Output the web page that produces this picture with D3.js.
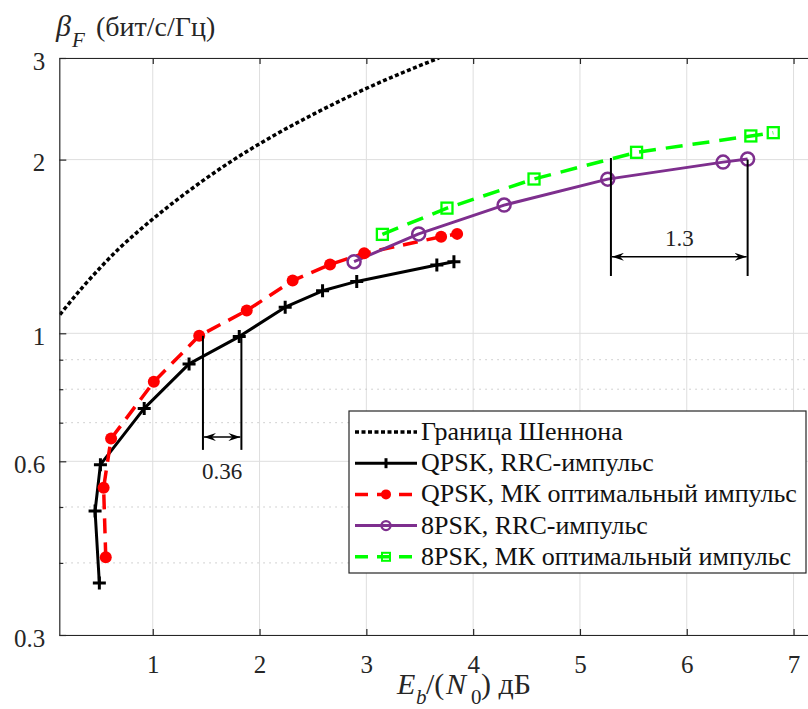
<!DOCTYPE html>
<html><head><meta charset="utf-8">
<script src="https://cdn.jsdelivr.net/npm/d3@7/dist/d3.min.js"></script>
<style>html,body{margin:0;padding:0;background:#fff;} svg text{font-family:"Liberation Serif","Times New Roman",serif;}</style>
</head><body>
<svg id="chart" width="808" height="709" font-family="Liberation Serif, Times New Roman, serif"></svg>
<script>
// ---- data ----
const xTicks = [1, 2, 3, 4, 5, 6, 7];
const yTicks = [0.3, 0.6, 1, 2, 3];
const yMinorTicks = [0.4, 0.5, 0.7, 0.8, 0.9];

const shannonX = [0.13, 0.17, 0.34, 0.51, 0.68, 0.86, 1.04, 1.40, 1.76, 2.13, 2.51, 2.89, 3.28, 3.68];
const shannonY = [1.077, 1.10, 1.20, 1.30, 1.40, 1.50, 1.60, 1.80, 2.00, 2.20, 2.40, 2.60, 2.80, 3.00];

const qpskRrcX = [0.50, 0.46, 0.51, 0.92, 1.34, 1.81, 2.24, 2.59, 2.91, 3.66, 3.82];
const qpskRrcY = [0.369, 0.492, 0.592, 0.741, 0.885, 0.987, 1.11, 1.185, 1.23, 1.313, 1.33];

const qpskMkX = [0.56, 0.54, 0.61, 1.01, 1.435, 1.88, 2.31, 2.66, 2.98, 3.70, 3.85];
const qpskMkY = [0.409, 0.54, 0.657, 0.824, 0.99, 1.095, 1.234, 1.316, 1.376, 1.47, 1.487];

const psk8RrcX = [2.885, 3.49, 4.29, 5.26, 6.34, 6.57];
const psk8RrcY = [1.331, 1.487, 1.668, 1.85, 1.98, 2.005];

const psk8MkX = [3.15, 3.755, 4.57, 5.53, 6.60, 6.81];
const psk8MkY = [1.484, 1.648, 1.851, 2.059, 2.198, 2.227];

const legendLabels = ["Граница Шеннона", "QPSK, RRC-импульс", "QPSK, МК оптимальный импульс", "8PSK, RRC-импульс", "8PSK, МК оптимальный импульс"];

// annotations (data units)
const annX1 = [1.47, 5.29];
const annX2 = [1.83, 6.57];
const annTop1 = [0.99, 2.013];
const annTop2 = [0.987, 2.0];
const annBottom = [0.628, 1.257];
const annArrowY = [0.661, 1.357];
const annLabels = ["0.36", "1.3"];
const annLabelY = [0.559, 1.417];

// ---- layout ----
const FONT = '"Liberation Serif","Times New Roman",serif';
const L = 59.3, T = 58, B = 635;
const pxPerUnit = 106.8;
const R = L + (7.2 - 0.125) * pxPerUnit;
const svg = d3.select("#chart");
svg.append("rect").attr("width", 808).attr("height", 709).attr("fill", "#fff");

const x = d3.scaleLinear().domain([0.125, 7.2]).range([L, R]);
const y = d3.scaleLog().domain([0.3, 3]).range([B, T]);

const defs = svg.append("defs");
defs.append("clipPath").attr("id", "plotclip").append("rect")
  .attr("x", L).attr("y", T).attr("width", R - L).attr("height", B - T);
defs.append("marker").attr("id", "arrow").attr("viewBox", "0 0 12 8")
  .attr("refX", 12).attr("refY", 4).attr("markerWidth", 12).attr("markerHeight", 8)
  .attr("markerUnits", "userSpaceOnUse").attr("orient", "auto-start-reverse")
  .append("path").attr("d", "M0,0 L12,4 L0,8 L4,4 Z").attr("fill", "#000");

// grid
const grid = svg.append("g");
grid.selectAll(".gx").data(xTicks).enter().append("line")
  .attr("x1", d => x(d)).attr("x2", d => x(d)).attr("y1", T).attr("y2", B)
  .attr("stroke", "#dedede").attr("stroke-width", 1);
grid.selectAll(".gy").data(yTicks).enter().append("line")
  .attr("x1", L).attr("x2", R).attr("y1", d => y(d)).attr("y2", d => y(d))
  .attr("stroke", "#dedede").attr("stroke-width", 1);
grid.selectAll(".gym").data(yMinorTicks).enter().append("line")
  .attr("x1", L).attr("x2", R).attr("y1", d => y(d)).attr("y2", d => y(d))
  .attr("stroke", "#c4c4c4").attr("stroke-width", 1).attr("stroke-dasharray", "1.5,4.5");

const plot = svg.append("g").attr("clip-path", "url(#plotclip)");
const zip = (xs, ys) => xs.map((v, i) => [v, ys[i]]);
const line = d3.line().x(d => x(d[0])).y(d => y(d[1]));
const smooth = d3.line().x(d => x(d[0])).y(d => y(d[1])).curve(d3.curveMonotoneX);

const series = [
  {pts: zip(shannonX, shannonY), color: "#000", width: 3.5, dash: "4,2.5", marker: null, gen: smooth},
  {pts: zip(qpskRrcX, qpskRrcY), color: "#000", width: 3, dash: null, marker: "plus", gen: line},
  {pts: zip(qpskMkX, qpskMkY), color: "#ff0000", width: 3.5, dash: "15,9", marker: "dot", gen: line},
  {pts: zip(psk8RrcX, psk8RrcY), color: "#7e2f8e", width: 3, dash: null, marker: "circle", gen: line},
  {pts: zip(psk8MkX, psk8MkY), color: "#00ff00", width: 3.5, dash: "17,10", marker: "square", gen: line}
];

function drawMarker(g, type, cx, cy, color) {
  if (type === "plus") {
    g.append("path").attr("d", `M${cx-6.5},${cy}H${cx+6.5}M${cx},${cy-6.5}V${cy+6.5}`)
      .attr("stroke", color).attr("stroke-width", 3).attr("fill", "none");
  } else if (type === "dot") {
    g.append("circle").attr("cx", cx).attr("cy", cy).attr("r", 6).attr("fill", color);
  } else if (type === "circle") {
    g.append("circle").attr("cx", cx).attr("cy", cy).attr("r", 6.5)
      .attr("fill", "none").attr("stroke", color).attr("stroke-width", 2.5);
  } else if (type === "square") {
    g.append("rect").attr("x", cx - 5.5).attr("y", cy - 5.5).attr("width", 11).attr("height", 11)
      .attr("fill", "none").attr("stroke", color).attr("stroke-width", 2.3);
  }
}

series.forEach(s => {
  const p = plot.append("path").attr("d", s.gen(s.pts)).attr("fill", "none")
    .attr("stroke", s.color).attr("stroke-width", s.width).attr("stroke-linejoin", "round");
  if (s.dash) p.attr("stroke-dasharray", s.dash);
  if (s.marker) {
    const g = svg.append("g");
    s.pts.forEach(d => drawMarker(g, s.marker, x(d[0]), y(d[1]), s.color));
  }
});

// annotations
const ann = svg.append("g");
annLabels.forEach((lab, i) => {
  ann.append("line").attr("x1", x(annX1[i])).attr("x2", x(annX1[i]))
    .attr("y1", y(annTop1[i])).attr("y2", y(annBottom[i])).attr("stroke", "#000").attr("stroke-width", 2);
  ann.append("line").attr("x1", x(annX2[i])).attr("x2", x(annX2[i]))
    .attr("y1", y(annTop2[i])).attr("y2", y(annBottom[i])).attr("stroke", "#000").attr("stroke-width", 2);
  ann.append("line").attr("x1", x(annX1[i]) + 1).attr("x2", x(annX2[i]) - 1)
    .attr("y1", y(annArrowY[i])).attr("y2", y(annArrowY[i]))
    .attr("stroke", "#000").attr("stroke-width", 1.5)
    .attr("marker-start", "url(#arrow)").attr("marker-end", "url(#arrow)");
  ann.append("text").attr("x", (x(annX1[i]) + x(annX2[i])) / 2).attr("y", y(annLabelY[i]))
    .attr("text-anchor", "middle").attr("font-size", 23).attr("font-family", FONT)
    .attr("fill", "#222").text(lab);
});

// axes
const axColor = "#262626";
const gB = svg.append("g").attr("transform", `translate(0,${B})`)
  .call(d3.axisBottom(x).tickValues(xTicks).tickFormat(d3.format("d")).tickSizeInner(-6).tickSizeOuter(0).tickPadding(20));
const gT = svg.append("g").attr("transform", `translate(0,${T})`)
  .call(d3.axisTop(x).tickValues(xTicks).tickFormat("").tickSizeInner(-6).tickSizeOuter(0));
const gL = svg.append("g").attr("transform", `translate(${L},0)`)
  .call(d3.axisLeft(y).tickValues(yTicks).tickFormat(d => String(d)).tickSizeInner(-7).tickSizeOuter(0).tickPadding(14));
const gLm = svg.append("g").attr("transform", `translate(${L},0)`)
  .call(d3.axisLeft(y).tickValues(yMinorTicks).tickFormat("").tickSizeInner(-4).tickSizeOuter(0));
gLm.select(".domain").remove();
[gB, gT, gL, gLm].forEach(g => {
  g.attr("font-family", FONT);
  g.selectAll(".domain").attr("stroke", axColor).attr("stroke-width", 1.2);
  g.selectAll(".tick line").attr("stroke", axColor).attr("stroke-width", 1.2);
  g.selectAll("text").attr("font-size", 25).attr("fill", "#262626").attr("font-family", FONT);
});
gL.selectAll("text").attr("dy", "0.45em");

// axis labels
const xl = svg.append("text").attr("y", 694).attr("font-size", 30).attr("fill", "#262626").attr("font-family", FONT);
xl.append("tspan").attr("x", 397).attr("font-style", "italic").text("E");
xl.append("tspan").attr("x", 416).attr("font-style", "italic").attr("font-size", 21).attr("y", 704).text("b");
xl.append("tspan").attr("x", 426).attr("y", 694).text("/(");
xl.append("tspan").attr("x", 446).attr("font-style", "italic").text("N");
xl.append("tspan").attr("x", 471).attr("font-size", 21).attr("y", 704).text("0");
xl.append("tspan").attr("x", 481).attr("y", 694).text(") дБ");

const yl = svg.append("text").attr("y", 36).attr("font-size", 28).attr("fill", "#262626").attr("font-family", FONT);
yl.append("tspan").attr("x", 56).attr("font-style", "italic").attr("font-size", 30).text("β");
yl.append("tspan").attr("x", 72).attr("font-style", "italic").attr("font-size", 21).attr("y", 47).text("F");
yl.append("tspan").attr("x", 96).attr("y", 36).text("(бит/с/Гц)");

// legend
const lg = svg.append("g");
lg.append("rect").attr("x", 349).attr("y", 411).attr("width", 457).attr("height", 162)
  .attr("fill", "#fff").attr("stroke", "#262626").attr("stroke-width", 1.2);
legendLabels.forEach((lab, i) => {
  const cy = 432 + i * 31.2;
  const s = series[i];
  const p = lg.append("line").attr("x1", 355).attr("x2", 417).attr("y1", cy).attr("y2", cy)
    .attr("stroke", s.color).attr("stroke-width", s.width);
  if (s.dash) p.attr("stroke-dasharray", i === 0 ? "4,2.5" : "13,9");
  if (s.marker) {
    const m = s.marker;
    if (m === "circle") {
      lg.append("circle").attr("cx", 386).attr("cy", cy).attr("r", 4.5).attr("fill", "none").attr("stroke", s.color).attr("stroke-width", 2.3);
    } else if (m === "square") {
      lg.append("rect").attr("x", 382).attr("y", cy - 4).attr("width", 8).attr("height", 8).attr("fill", "none").attr("stroke", s.color).attr("stroke-width", 2);
    } else if (m === "dot") {
      lg.append("circle").attr("cx", 386).attr("cy", cy).attr("r", 5).attr("fill", s.color);
    } else {
      lg.append("path").attr("d", `M386,${cy-5}V${cy+5}`).attr("stroke", s.color).attr("stroke-width", 3);
    }
  }
  lg.append("text").attr("x", 421).attr("y", cy + 8).attr("font-size", 26).attr("font-family", FONT)
    .attr("fill", "#111").text(lab);
});
</script>
</body></html>
